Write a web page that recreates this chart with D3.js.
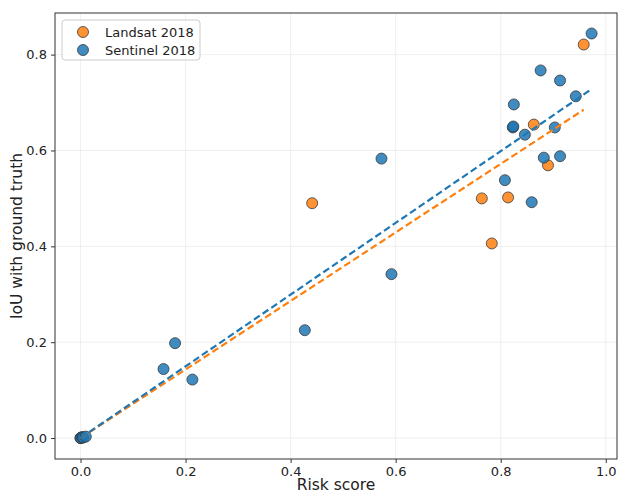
<!DOCTYPE html>
<html><head><meta charset="utf-8">
<script src="https://cdn.jsdelivr.net/npm/d3@7"></script>
<style>body{margin:0;background:#fff}svg{display:block}text{font-family:"DejaVu Sans",sans-serif}</style>
</head><body>
<svg id="c" width="619" height="493"></svg>
<script>
const seriesNames = ["Landsat 2018", "Sentinel 2018"];
const seriesColors = ["#ff7f0e", "#1f77b4"];
const landsatX = [0.0, 0.002, 0.441, 0.764, 0.783, 0.814, 0.863, 0.890, 0.958];
const landsatY = [0.0, 0.001, 0.490, 0.500, 0.406, 0.502, 0.654, 0.569, 0.821];
const sentinelX = [0.0, 0.003, 0.005, 0.010, 0.158, 0.180, 0.213, 0.427, 0.573, 0.592, 0.808, 0.823, 0.824, 0.825, 0.846, 0.859, 0.876, 0.882, 0.903, 0.913, 0.913, 0.943, 0.973];
const sentinelY = [0.0, 0.002, 0.001, 0.003, 0.144, 0.198, 0.122, 0.225, 0.583, 0.342, 0.538, 0.648, 0.650, 0.696, 0.633, 0.492, 0.767, 0.585, 0.648, 0.746, 0.588, 0.713, 0.844];
// fitted trend lines (endpoints)
const landsatFitX = [0.0, 0.958];
const landsatFitY = [0.0, 0.685];
const sentinelFitX = [0.0, 0.973];
const sentinelFitY = [0.0, 0.728];
const xTicks = [0.0, 0.2, 0.4, 0.6, 0.8, 1.0];
const yTicks = [0.0, 0.2, 0.4, 0.6, 0.8];

const svg = d3.select("#c");
const L = 55, R = 617, T = 13, B = 459;
const x = d3.scaleLinear().domain([-0.0486, 1.0214]).range([L, R]);
const y = d3.scaleLinear().domain([-0.0437, 0.8868]).range([B, T]);

// grid
const g = svg.append("g");
g.selectAll(".gx").data(xTicks).join("line").attr("x1", d => x(d)).attr("x2", d => x(d)).attr("y1", T).attr("y2", B).attr("stroke", "#ebebeb").attr("stroke-width", 0.8);
g.selectAll(".gy").data(yTicks).join("line").attr("y1", d => y(d)).attr("y2", d => y(d)).attr("x1", L).attr("x2", R).attr("stroke", "#ebebeb").attr("stroke-width", 0.8);

// axes
const xa = svg.append("g").attr("transform", `translate(0,${B})`).call(d3.axisBottom(x).tickValues(xTicks).tickFormat(d3.format(".1f")).tickSize(4).tickPadding(4));
const ya = svg.append("g").attr("transform", `translate(${L},0)`).call(d3.axisLeft(y).tickValues(yTicks).tickFormat(d3.format(".1f")).tickSize(4).tickPadding(4));
[xa, ya].forEach(a => { a.select(".domain").remove(); a.selectAll("text").attr("font-size", 13).attr("fill", "#222"); a.selectAll("line").attr("stroke", "#333"); });
svg.append("rect").attr("x", L).attr("y", T).attr("width", R - L).attr("height", B - T).attr("fill", "none").attr("stroke", "#333").attr("stroke-width", 1);

svg.append("text").attr("x", (L + R) / 2).attr("y", 490).attr("text-anchor", "middle").attr("font-size", 15.5).attr("fill", "#222").text("Risk score");
svg.append("text").attr("transform", `translate(22,${(T + B) / 2}) rotate(-90)`).attr("text-anchor", "middle").attr("font-size", 15.5).attr("fill", "#222").text("IoU with ground truth");

const series = [
  {xs: landsatX, ys: landsatY, fx: landsatFitX, fy: landsatFitY, c: seriesColors[0]},
  {xs: sentinelX, ys: sentinelY, fx: sentinelFitX, fy: sentinelFitY, c: seriesColors[1]}
];
series.forEach(s => {
  svg.append("g").selectAll("circle").data(s.xs.map((v, i) => [v, s.ys[i]])).join("circle")
    .attr("cx", d => x(d[0])).attr("cy", d => y(d[1])).attr("r", 5.5)
    .attr("fill", s.c).attr("fill-opacity", 0.85).attr("stroke", "#333").attr("stroke-opacity", 0.85).attr("stroke-width", 0.9);
});
series.forEach(s => {
  svg.append("path").datum(s.fx.map((v, i) => [v, s.fy[i]]))
    .attr("d", d3.line().x(d => x(d[0])).y(d => y(d[1])))
    .attr("stroke", s.c).attr("stroke-width", 2.2).attr("stroke-dasharray", "7,3.5").attr("fill", "none");
});

// legend
const lg = svg.append("g");
lg.append("rect").attr("x", 62).attr("y", 20).attr("width", 138).attr("height", 40).attr("rx", 3).attr("fill", "white").attr("fill-opacity", 0.8).attr("stroke", "#ccc");
seriesNames.forEach((n, i) => {
  lg.append("circle").attr("cx", 83).attr("cy", 32 + i * 18).attr("r", 5.5).attr("fill", seriesColors[i]).attr("fill-opacity", 0.85).attr("stroke", "#333").attr("stroke-opacity", 0.85).attr("stroke-width", 0.9);
  lg.append("text").attr("x", 105).attr("y", 37 + i * 18).attr("font-size", 13).attr("fill", "#222").text(n);
});
</script>
</body></html>
